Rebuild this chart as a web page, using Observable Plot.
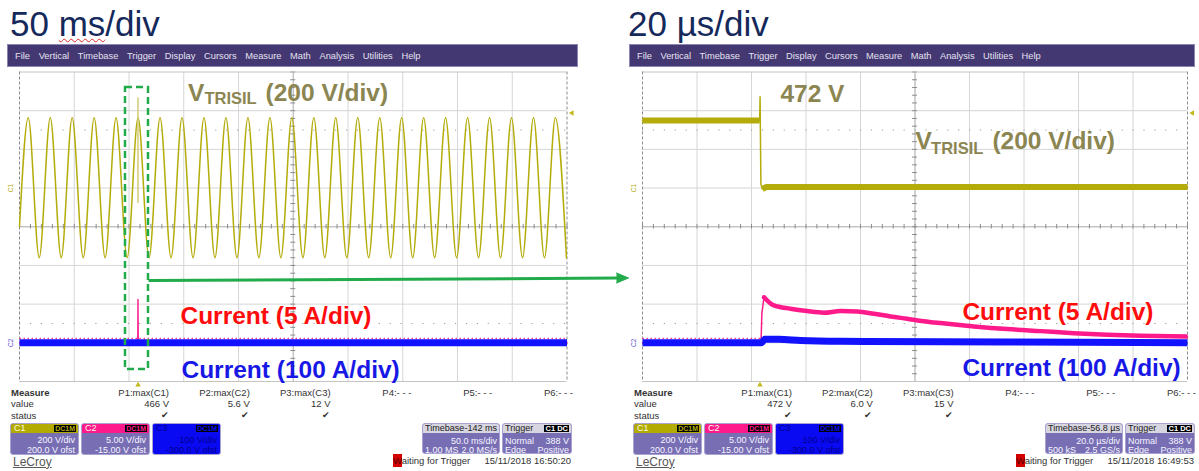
<!DOCTYPE html>
<html><head><meta charset="utf-8">
<script src="https://cdn.jsdelivr.net/npm/d3@7"></script>
<script src="https://cdn.jsdelivr.net/npm/@observablehq/plot@0.6"></script>
<style>
html,body{margin:0;padding:0;background:#fff;}
#page{position:relative;width:1199px;height:471px;overflow:hidden;font-family:"Liberation Sans",Arial,sans-serif;}
.abs{position:absolute;white-space:nowrap;}
.title{font-size:35px;color:#15295b;line-height:35px;}
.title .sp{text-decoration:underline wavy #e02828;text-decoration-thickness:1px;text-underline-offset:2px;}
.menubar{background:#443873;border:1px solid #8c86b4;box-sizing:border-box;height:23px;display:flex;align-items:center;padding-left:7px;color:#e4e2f0;font-size:9.3px;}
.box{border:1px solid #a9a3d4;border-radius:3px;background:#786eb4;box-sizing:border-box;overflow:hidden;color:#f6f6ff;font-size:9px;}
.hdr{position:relative;height:9px;}
.badge{position:absolute;right:2px;top:1px;background:#000;font-size:7px;font-weight:bold;line-height:7px;padding:0 1px;}
.ln{position:absolute;font-size:9px;line-height:10px;}
</style></head>
<body><div id="page"></div>
<script>
// ---------- scope settings ----------
const c1Scale = 200, c1Offset = 200;   // C1: 200 V/div, 200.0 V ofst
const c2Scale = 5,   c2Offset = -15;   // C2: 5.00 V/div (5 A/div), -15.00 V ofst
const c3Scale = 100, c3Offset = -300;  // C3: 100 V/div (100 A/div), -300.0 V ofst
const toDiv = (v, s, o) => (v + o) / s;

// ---------- LEFT screen: 50 ms/div (time in ms) ----------
const c1LeftTimeMs = [0, 8.0, 18.0, 28.1, 38.1, 48.1, 58.2, 68.2, 78.2, 88.2, 98.3, 108.3, 118.3, 128.4, 138.4,
  148.4, 158.5, 168.5, 178.5, 188.5, 198.6, 208.6, 218.6, 228.7, 238.7, 248.7, 258.8, 268.8, 278.8, 288.8,
  298.9, 308.9, 318.9, 329.0, 339.0, 349.0, 359.1, 369.1, 379.1, 389.1, 399.2, 409.2, 419.2, 429.3, 439.3,
  449.3, 459.4, 469.4, 479.4, 489.4, 499.5];
const c1LeftVolts = [-200, 364, -360, 364, -360, 364, -360, 364, -360, 364, -360, 364, -360, 364, -360,
  364, -360, 364, -360, 364, -360, 364, -360, 364, -360, 364, -360, 364, -360, 364,
  -360, 364, -360, 364, -360, 364, -360, 364, -360, 364, -360, 364, -360, 364, -360,
  364, -360, 364, -360, 364, -360];
const leftSurgeTimeMs = [108.2];
const leftSurgeMaxV = [466];
const leftSurgeMinV = [-80];
const c2LeftTimeMs = [0, 108.0, 108.2, 108.45, 500];
const c2LeftAmps   = [0, 0, 5.6, 0, 0];
const c3LeftTimeMs = [0, 500];
const c3LeftAmps   = [0, 0];

// ---------- RIGHT screen: 20 us/div (time in us) ----------
const c1RightTimeUs = [0, 43.0, 43.15, 43.45, 44.0, 45.5, 200];
const c1RightVolts  = [349, 349, 472, 20, -5, 6, 6];
const c2RightTimeUs = [0, 43.5, 43.8, 44.6, 48.2, 54.3, 60.4, 66.5, 72.7, 78.8, 84.9, 91.0, 97.1, 103.2,
  109.4, 121.6, 133.8, 146.1, 158.3, 170.5, 182.8, 200];
const c2RightAmps   = [0, 0, 3.8, 5.9, 4.83, 4.41, 4.10, 3.89, 4.10, 4.06, 3.76, 3.41, 3.11, 2.80,
  2.55, 2.12, 1.77, 1.51, 1.25, 1.05, 0.92, 0.83];
const c3RightTimeUs = [0, 43.6, 44.8, 50.0, 58.0, 72.7, 110, 160, 200];
const c3RightAmps   = [0, 0, 9, 9, 6, 4, 3, 1.5, 0];

// ---------- graticule ----------
const gridDivs = [-4, -3, -2, -1, 0, 1, 2, 3, 4];
const dottedDivs = [-2.5, 2.5];
const leftGridMs = [0, 50, 100, 150, 200, 250, 300, 350, 400, 450, 500];
const rightGridUs = [0, 20, 40, 60, 80, 100, 120, 140, 160, 180, 200];
const triggerLevelV = 388;
const leftTriggerMs = 108.3, rightTriggerUs = 43.1;

// ---------- panel texts ----------
const menuItems = ["File", "Vertical", "Timebase", "Trigger", "Display", "Cursors", "Measure", "Math", "Analysis", "Utilities", "Help"];
const measureHeads = ["P1:max(C1)", "P2:max(C2)", "P3:max(C3)", "P4:- - -", "P5:- - -", "P6:- - -"];
const leftMeasureValues = ["466 V", "5.6 V", "12 V"];
const rightMeasureValues = ["472 V", "6.0 V", "15 V"];
const channelBoxes = [
  {name: "C1", color: "#b3ab00", lines: ["200 V/div", "200.0 V ofst"], full: false},
  {name: "C2", color: "#ff1a8c", lines: ["5.00 V/div", "-15.00 V ofst"], full: false},
  {name: "C3", color: "#0a0af2", lines: ["100 V/div", "-300.0 V ofst"], full: true}
];
const leftTimebase = ["-142 ms", "50.0 ms/div", "1.00 MS", "2.0 MS/s"];
const rightTimebase = ["-56.8 µs", "20.0 µs/div", "500 kS", "2.5 GS/s"];
const triggerTexts = ["Normal", "388 V", "Edge", "Positive"];
const leftDate = "15/11/2018 16:50:20";
const rightDate = "15/11/2018 16:49:53";

// ---------- colours ----------
const FONT = "Liberation Sans, Arial, sans-serif";
const C1 = "#b4ac0a", C2 = "#ff1a8c", C3 = "#1212ff";
const OLIVE_TXT = "#8b8551", RED_TXT = "#ff0d0d", BLUE_TXT = "#1818e6", GREEN = "#22ab4b";

const page = document.getElementById("page");
function el(html, style, cls) {
  const d = document.createElement("div");
  d.className = "abs" + (cls ? " " + cls : "");
  d.innerHTML = html;
  Object.assign(d.style, style);
  page.appendChild(d);
  return d;
}
function textAt(x, yc, html, opt = {}) {
  const size = opt.size || 9.5;
  const s = {top: (yc - size * 0.56) + "px", fontSize: size + "px", color: opt.color || "#333",
    fontWeight: opt.weight || "normal", lineHeight: (size * 1.1) + "px"};
  if (opt.align === "right") { s.left = (x - 300) + "px"; s.width = "300px"; s.textAlign = "right"; }
  else s.left = x + "px";
  if (opt.deco) s.textDecoration = opt.deco;
  return el(html, s);
}

// titles
el('50 <span class="sp">ms</span>/div', {left: "10px", top: "6px"}, "title");
el('20 µs/div', {left: "628px", top: "6px"}, "title");

function buildChrome(ox, menuX, menuW, gap, values, tb, date) {
  el(menuItems.map(m => `<span>${m}</span>`).join(""),
    {left: (ox + menuX) + "px", top: "44px", width: menuW + "px", gap: gap + "px"}, "menubar");
  textAt(ox + 11, 393.3, "Measure", {weight: "bold"});
  textAt(ox + 11, 404.7, "value");
  textAt(ox + 11, 416.3, "status");
  measureHeads.forEach((h, i) => textAt(ox + 169 + 80.8 * i, 393.3, h, {align: "right"}));
  values.forEach((v, i) => {
    textAt(ox + 169 + 80.8 * i, 404.7, v, {align: "right"});
    textAt(ox + 168.5 + 80.8 * i, 416.3, "✔", {align: "right", size: 9});
  });
  channelBoxes.forEach((c, i) => {
    const x = ox + 10 + 71 * i;
    const body = c.full ? c.color : "#786eb4";
    const txt = c.full ? "#00008c" : "#f6f6ff";
    el(`<div class="hdr" style="background:${c.color}">
          <span style="position:absolute;left:3px;top:-1px;font-size:9px;line-height:10px;color:${c.full ? '#00008c' : '#fbfbe8'}">${c.name}</span>
          <span class="badge" style="color:${c.color}">DC1M</span></div>
        <div class="ln" style="right:3px;top:11px;color:${txt}">${c.lines[0]}</div>
        <div class="ln" style="right:3px;top:21px;color:${txt}">${c.lines[1]}</div>`,
      {left: x + "px", top: "423px", width: "69px", height: "32px", background: body}, "box");
  });
  el(`<div class="hdr" style="background:#d7d5df;color:#222">
        <span style="position:absolute;left:2px;top:-1px;line-height:10px">Timebase</span>
        <span style="position:absolute;right:2px;top:-1px;line-height:10px">${tb[0]}</span></div>
      <div class="ln" style="right:2px;top:12px">${tb[1]}</div>
      <div class="ln" style="left:2px;top:21.5px">${tb[2]}</div>
      <div class="ln" style="right:2px;top:21.5px">${tb[3]}</div>`,
    {left: (ox + 422) + "px", top: "422.5px", width: "78px", height: "31px"}, "box");
  el(`<div class="hdr" style="background:#d7d5df;color:#222">
        <span style="position:absolute;left:2px;top:-1px;line-height:10px">Trigger</span>
        <span class="badge" style="color:#fff;top:1px;font-size:7.5px">C1 DC</span></div>
      <div class="ln" style="left:2px;top:12px">${triggerTexts[0]}</div>
      <div class="ln" style="right:2px;top:12px">${triggerTexts[1]}</div>
      <div class="ln" style="left:2px;top:21.5px">${triggerTexts[2]}</div>
      <div class="ln" style="right:2px;top:21.5px">${triggerTexts[3]}</div>`,
    {left: (ox + 502) + "px", top: "422.5px", width: "70px", height: "31px"}, "box");
  textAt(ox + 13, 462.5, "LeCroy", {size: 12, color: "#585858", deco: "underline"});
  textAt(ox + 393, 461.7, '<span style="background:#d40000;color:#5a0000;padding:1px 0">W</span>aiting for Trigger', {size: 9.5});
  textAt(ox + 484.5, 461.7, date, {size: 9.5});
}
buildChrome(0, 7, 571, 8.7, leftMeasureValues, leftTimebase, leftDate);
buildChrome(623, 6, 566, 8.5, rightMeasureValues, rightTimebase, rightDate);

// ---------- plot helpers ----------
const minorDivs = d3.range(-4, 4.001, 0.2);
function graticule(xDomain, gridX, minorStep) {
  const xc = (xDomain[0] + xDomain[1]) / 2;
  const half = (xDomain[1] - xDomain[0]) / 220;
  const minorX = d3.range(xDomain[0], xDomain[1] + 1e-6, minorStep);
  return [
    Plot.ruleX(gridX.slice(1, -1), {stroke: "#d6d6d6", strokeWidth: 1}),
    Plot.ruleY(gridDivs.slice(1, -1), {stroke: "#d6d6d6", strokeWidth: 1}),
    Plot.ruleY(dottedDivs, {stroke: "#9c9c9c", strokeWidth: 1, strokeDasharray: "1.2,9.7"}),
    Plot.ruleX([xc], {stroke: "#b9b9b9", strokeWidth: 1}),
    Plot.ruleY([0], {stroke: "#b9b9b9", strokeWidth: 1}),
    Plot.ruleX(minorX, {x: d => d, y1: -0.06, y2: 0.06, stroke: "#8d8d8d"}),
    Plot.ruleY(minorDivs, {y: d => d, x1: xc - half, x2: xc + half, stroke: "#8d8d8d"}),
    Plot.ruleY([-4, 4], {stroke: "#c4c4c4", strokeWidth: 1}),
    Plot.ruleX(xDomain, {stroke: "#8a8a8a", strokeWidth: 1, strokeDasharray: "3,2"})
  ];
}
function label(text, x, y, size, color) {
  return Plot.text([text], {x, y, text: d => d, textAnchor: "start", lineAnchor: "bottom",
    fontSize: size, fontWeight: "bold", fontFamily: FONT, fill: color});
}
function chMarks(xMax, trigX) {
  return [
    Plot.text(["C1"], {x: 0, y: toDiv(0, c1Scale, c1Offset), text: d => d, dx: -9, rotate: -90, fontSize: 6.5, fill: C1, fontFamily: FONT}),
    Plot.text(["C2"], {x: 0, y: toDiv(0, c2Scale, c2Offset), text: d => d, dx: -9, rotate: -90, fontSize: 6.5, fill: "#5a4fd0", fontFamily: FONT}),
    Plot.dot([trigX], {x: d => d, y: -4, dy: 3.5, symbol: "triangle2", r: 2.6, fill: "#c2b81a"}),
    Plot.dot([triggerLevelV], {x: xMax, y: d => toDiv(d, c1Scale, c1Offset), dx: 5, symbol: "triangle2", rotate: -90, r: 2.6, fill: "#c2b81a"})
  ];
}

// ---------- LEFT plot ----------
const c1Left = c1LeftTimeMs.map((t, i) => ({t, d: toDiv(c1LeftVolts[i], c1Scale, c1Offset)}));
const surgeLeft = leftSurgeTimeMs.map((t, i) => ({t, lo: toDiv(leftSurgeMinV[i], c1Scale, c1Offset), hi: toDiv(leftSurgeMaxV[i], c1Scale, c1Offset)}));
const c2Left = c2LeftTimeMs.map((t, i) => ({t, a: c2LeftAmps[i], d: toDiv(c2LeftAmps[i], c2Scale, c2Offset)}));
const c3Left = c3LeftTimeMs.map((t, i) => ({t, d: toDiv(c3LeftAmps[i], c3Scale, c3Offset)}));
const greenBox = [{x1: 96.8, x2: 117.8, y1: -3.69, y2: 3.60}];
const arrowShaft = [{t: 117.8, d: -1.389}, {t: 546, d: -1.327}];
const arrowHead = [{t: 545.2, d: -1.196}, {t: 556.2, d: -1.325}, {t: 545.2, d: -1.454}];

const leftPlot = Plot.plot({
  width: 632, height: 320,
  marginLeft: 19, marginRight: 65.5, marginTop: 5.5, marginBottom: 5,
  x: {domain: [0, 500], axis: null},
  y: {domain: [-4, 4], axis: null},
  style: {background: "transparent", overflow: "visible", fontFamily: FONT},
  marks: [
    ...graticule([0, 500], leftGridMs, 10),
    Plot.line(c1Left, {x: "t", y: "d", curve: "monotone-x", stroke: C1, strokeWidth: 1.5}),
    Plot.ruleX(surgeLeft, {x: "t", y1: "lo", y2: "hi", stroke: "#cec76a", strokeWidth: 1.4}),
    Plot.line(c2Left, {x: "t", y: "d", stroke: C2, strokeWidth: 1.4}),
    Plot.line(c2Left, {x: "t", y: "d", filter: d => d.a === 0, dy: -4.2, stroke: C2, strokeWidth: 1.5, strokeDasharray: "1.5,2.5", strokeOpacity: 0.85, strokeLinecap: "butt"}),
    Plot.line(c3Left, {x: "t", y: "d", stroke: C3, strokeWidth: 7, strokeLinecap: "butt"}),
    ...chMarks(500, leftTriggerMs),
    Plot.rect(greenBox, {x1: "x1", x2: "x2", y1: "y1", y2: "y2", fill: "none", stroke: GREEN, strokeWidth: 2.5, strokeDasharray: "7,4"}),
    Plot.line(arrowShaft, {x: "t", y: "d", stroke: GREEN, strokeWidth: 3, strokeLinecap: "butt"}),
    Plot.line(arrowHead, {x: "t", y: "d", fill: GREEN, stroke: GREEN, strokeWidth: 1}),
    label("V", 153.9, 3.263, 24.5, OLIVE_TXT),
    label("TRISIL", 168.9, 3.16, 16.5, OLIVE_TXT),
    label("(200 V/div)", 224.7, 3.263, 24.5, OLIVE_TXT),
    label("Current (5 A/div)", 147.0, -2.501, 24.5, RED_TXT),
    label("Current (100 A/div)", 147.9, -3.897, 24.5, BLUE_TXT)
  ]
});
el("", {left: "0px", top: "66px", width: "632px", height: "320px"}).appendChild(leftPlot);

// ---------- RIGHT plot ----------
const c1Right = c1RightTimeUs.map((t, i) => ({t, d: toDiv(c1RightVolts[i], c1Scale, c1Offset)}));
const c2Right = c2RightTimeUs.map((t, i) => ({t, a: c2RightAmps[i], d: toDiv(c2RightAmps[i], c2Scale, c2Offset)}));
const c3Right = c3RightTimeUs.map((t, i) => ({t, d: toDiv(c3RightAmps[i], c3Scale, c3Offset)}));

const rightPlot = Plot.plot({
  width: 577, height: 320,
  marginLeft: 20, marginRight: 12, marginTop: 5.5, marginBottom: 5,
  x: {domain: [0, 200], axis: null},
  y: {domain: [-4, 4], axis: null},
  style: {background: "transparent", overflow: "visible", fontFamily: FONT},
  marks: [
    ...graticule([0, 200], rightGridUs, 4),
    Plot.line(c1Right, {x: "t", y: "d", stroke: C1, strokeWidth: 1.5}),
    Plot.line(c1Right, {x: "t", y: "d", filter: d => d.t <= 43.0 || d.t >= 44.0, z: d => d.t <= 43.0 ? "pre" : "post", stroke: C1, strokeWidth: 6, strokeLinecap: "butt"}),
    Plot.line(c2Right, {x: "t", y: "d", stroke: C2, strokeWidth: 1.5}),
    Plot.line(c2Right, {x: "t", y: "d", filter: d => d.t >= 44.6, curve: "monotone-x", stroke: C2, strokeWidth: 4.5, strokeLinecap: "butt"}),
    Plot.dot([c2Right.find(d => d.t >= 44.6)], {x: "t", y: "d", r: 2.25, fill: C2}),
    Plot.line(c2Right, {x: "t", y: "d", filter: d => d.a === 0, dy: -4.2, stroke: C2, strokeWidth: 1.5, strokeDasharray: "1.5,2.5", strokeOpacity: 0.85, strokeLinecap: "butt"}),
    Plot.line(c3Right, {x: "t", y: "d", curve: "monotone-x", stroke: C3, strokeWidth: 7, strokeLinecap: "butt"}),
    ...chMarks(200, rightTriggerUs),
    label("472 V", 50.6, 3.212, 24.5, OLIVE_TXT),
    label("V", 100.2, 1.997, 24.5, OLIVE_TXT),
    label("TRISIL", 105.9, 1.88, 16.5, OLIVE_TXT),
    label("(200 V/div)", 128.4, 1.997, 24.5, OLIVE_TXT),
    label("Current (5 A/div)", 117.4, -2.42, 24.5, RED_TXT),
    label("Current (100 A/div)", 117.4, -3.845, 24.5, BLUE_TXT)
  ]
});
el("", {left: "622px", top: "66px", width: "577px", height: "320px"}).appendChild(rightPlot);
</script></body></html>
